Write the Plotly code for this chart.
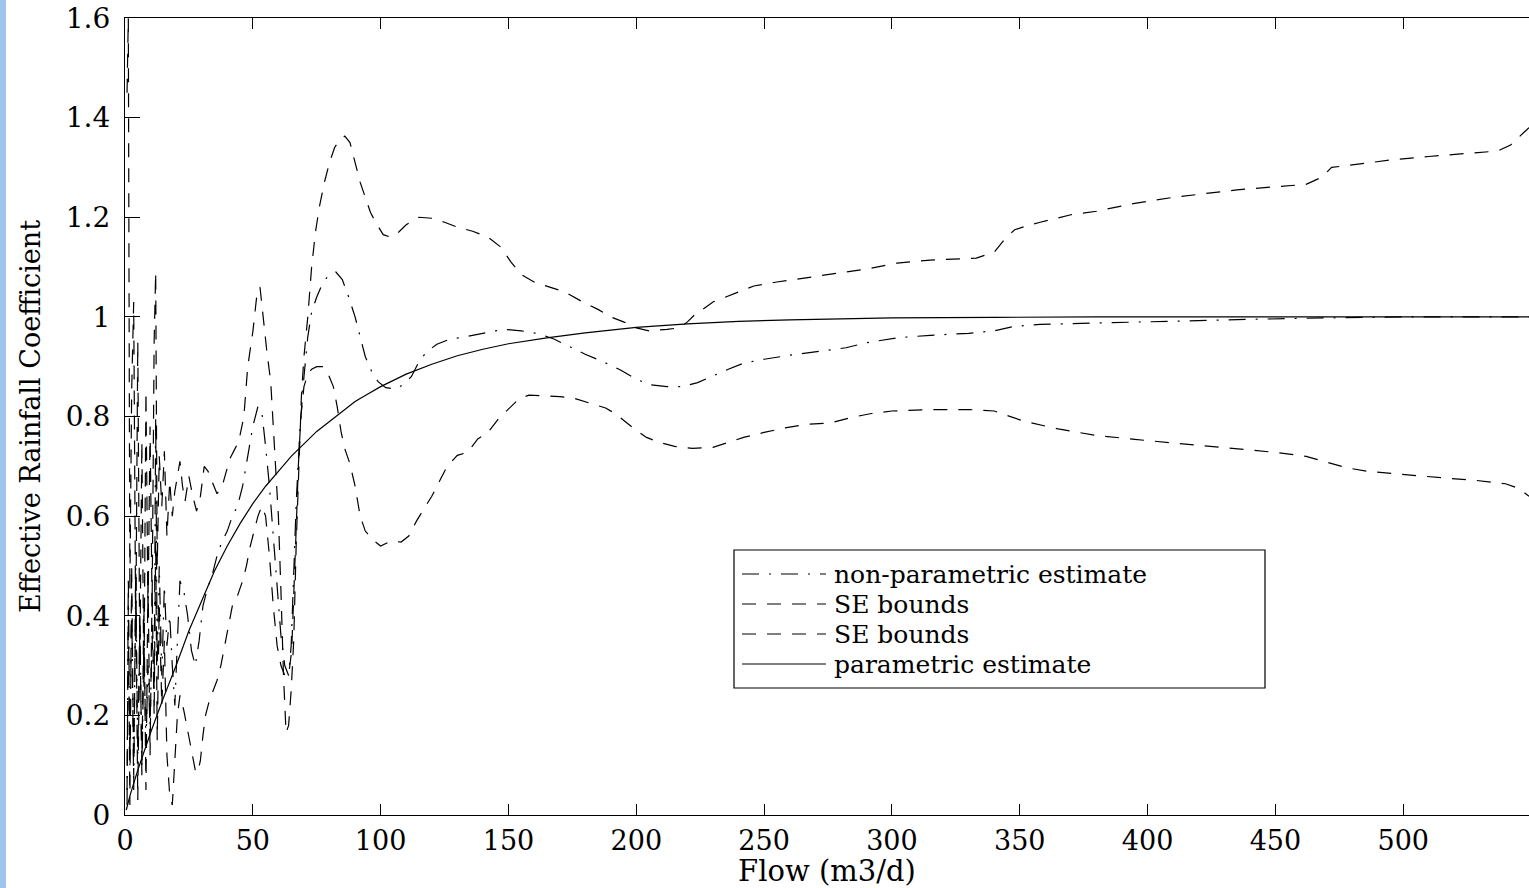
import plotly.graph_objects as go

# ---------------- data ----------------
se_upper = [
    (0.8, 1.45), (1.3, 1.6), (1.9, 0.45), (2.6, 0.85), (3.4, 1.03), (4.2, 0.35), (5.0, 0.95),
    (5.8, 0.3), (6.6, 0.75), (7.4, 0.25), (8.2, 0.85), (9.0, 0.4), (9.8, 0.78), (10.6, 0.42),
    (11.4, 0.95), (12.0, 1.09), (12.6, 0.5), (13.4, 0.72), (14.4, 0.62), (15.4, 0.73),
    (16.4, 0.56), (17.5, 0.67), (18.5, 0.6), (19.5, 0.65), (20.5, 0.68), (21.5, 0.71),
    (22.5, 0.66), (23.5, 0.63), (25, 0.68), (26.5, 0.64), (28, 0.61), (29.5, 0.64), (31, 0.70),
    (32.5, 0.69), (34, 0.67), (36, 0.645), (38, 0.66), (39.5, 0.69), (41, 0.715), (42.5, 0.73),
    (44.5, 0.75), (46.5, 0.8), (48, 0.9), (50, 0.97), (51.5, 1.04), (52.8, 1.06), (54, 1.0),
    (55.5, 0.93), (57, 0.87), (58, 0.78), (59, 0.7), (60, 0.6), (61, 0.45), (62, 0.28),
    (63, 0.165), (64, 0.18), (65, 0.25), (66, 0.35), (67, 0.55), (68, 0.72), (69, 0.84),
    (70, 0.92), (71.5, 1.0), (73, 1.1), (74.5, 1.17), (76, 1.22), (78, 1.27), (80, 1.31),
    (82, 1.34), (84, 1.355), (86, 1.363), (88, 1.35), (90, 1.31), (92, 1.27), (94, 1.24),
    (96, 1.21), (98, 1.19), (101, 1.165), (104, 1.16), (107, 1.17), (110, 1.185), (115, 1.2),
    (120, 1.198), (125, 1.19), (130, 1.18), (136, 1.172), (142, 1.16), (147, 1.14),
    (151, 1.11), (155, 1.085), (160, 1.07), (166, 1.06), (172, 1.05), (179, 1.03),
    (185, 1.015), (190, 1.0), (195, 0.99), (200, 0.978), (205, 0.972), (212, 0.975),
    (217, 0.978), (220, 0.99), (223, 1.005), (226, 1.015), (230, 1.03), (235, 1.04),
    (240, 1.05), (246, 1.062), (255, 1.07), (265, 1.077), (275, 1.084), (290, 1.096),
    (302, 1.108), (315, 1.114), (333, 1.118), (340, 1.13), (344, 1.155), (348, 1.175),
    (353, 1.183), (358, 1.19), (370, 1.205), (380, 1.212), (395, 1.228), (410, 1.24),
    (420, 1.246), (435, 1.255), (452, 1.262), (462, 1.266), (468, 1.28), (472, 1.30),
    (480, 1.305), (495, 1.315), (510, 1.322), (525, 1.328), (537, 1.333), (542, 1.345),
    (545, 1.36), (549.2, 1.38),
]

se_lower = [
    (0.8, 0.05), (1.3, 0.42), (1.9, 0.02), (2.6, 0.5), (3.4, 0.08), (4.2, 0.45), (5.0, 0.03),
    (5.8, 0.38), (6.6, 0.1), (7.4, 0.42), (8.2, 0.05), (9.0, 0.48), (9.8, 0.12), (10.6, 0.45),
    (11.4, 0.2), (12.0, 0.55), (12.6, 0.15), (13.4, 0.42), (14.4, 0.22), (15.4, 0.35),
    (16.4, 0.12), (17.5, 0.04), (18.5, 0.02), (19.5, 0.12), (20.5, 0.2), (21.5, 0.24),
    (23, 0.21), (24.5, 0.17), (26, 0.13), (27.5, 0.09), (28.5, 0.085), (29.5, 0.11),
    (30.5, 0.16), (31.5, 0.2), (33, 0.23), (34.5, 0.25), (36, 0.27), (37.5, 0.3), (39, 0.34),
    (40.5, 0.38), (42, 0.42), (44, 0.44), (46, 0.47), (47.5, 0.5), (49, 0.54), (50.5, 0.57),
    (52, 0.6), (53.5, 0.62), (55, 0.6), (56.5, 0.52), (58, 0.42), (59.5, 0.34), (61, 0.3),
    (62.5, 0.28), (64, 0.28), (65.2, 0.33), (66.2, 0.45), (67, 0.58), (67.8, 0.7),
    (68.8, 0.8), (70, 0.86), (71.5, 0.885), (73, 0.895), (75, 0.9), (77.5, 0.9),
    (79.5, 0.885), (81.5, 0.86), (83, 0.82), (84.5, 0.77), (86, 0.735), (88, 0.705),
    (90, 0.66), (92, 0.6), (94, 0.57), (97, 0.552), (100, 0.54), (104, 0.55), (108, 0.548),
    (111, 0.56), (114, 0.59), (117, 0.615), (120, 0.64), (123, 0.67), (126, 0.7),
    (130, 0.722), (134, 0.728), (138, 0.755), (142, 0.768), (146, 0.795), (150, 0.815),
    (154, 0.835), (158, 0.843), (164, 0.842), (170, 0.84), (176, 0.836), (182, 0.826),
    (188, 0.817), (192, 0.805), (196, 0.788), (200, 0.772), (204, 0.758), (209, 0.748),
    (215, 0.74), (222, 0.736), (230, 0.738), (236, 0.748), (242, 0.758), (250, 0.768),
    (258, 0.777), (266, 0.784), (276, 0.787), (284, 0.798), (292, 0.806), (300, 0.811),
    (315, 0.814), (330, 0.814), (340, 0.811), (345, 0.802), (352, 0.79), (365, 0.775),
    (380, 0.762), (395, 0.754), (410, 0.747), (430, 0.737), (450, 0.728), (462, 0.72),
    (470, 0.708), (478, 0.697), (486, 0.69), (500, 0.683), (515, 0.677), (528, 0.672),
    (540, 0.665), (545, 0.656), (549.2, 0.64),
]

nonparametric = [
    (0.8, 0.02), (1.3, 0.48), (1.9, 0.1), (2.6, 0.44), (3.4, 0.05), (4.2, 0.5), (5.0, 0.12),
    (5.8, 0.4), (6.6, 0.08), (7.4, 0.34), (8.2, 0.14), (9.0, 0.3), (9.8, 0.18), (10.6, 0.36),
    (11.4, 0.25), (12.0, 0.8), (12.6, 0.3), (13.4, 0.5), (14.4, 0.28), (15.4, 0.46),
    (16.4, 0.34), (17.5, 0.4), (18.5, 0.3), (19.5, 0.22), (20.5, 0.35), (21.5, 0.47),
    (23, 0.45), (24.5, 0.4), (26, 0.33), (27.5, 0.3), (29, 0.35), (30.5, 0.42), (32, 0.45),
    (34, 0.48), (36, 0.52), (38, 0.55), (40, 0.57), (42, 0.6), (44, 0.62), (46, 0.66),
    (48, 0.72), (50, 0.78), (52, 0.82), (53.5, 0.81), (55, 0.74), (56.5, 0.66), (58, 0.56),
    (59.5, 0.45), (61, 0.36), (62.5, 0.3), (64, 0.28), (65, 0.34), (66, 0.48), (67, 0.63),
    (68.5, 0.78), (70, 0.88), (71.5, 0.96), (73, 1.01), (75, 1.04), (77.5, 1.07),
    (80, 1.085), (82.5, 1.09), (85, 1.075), (87.5, 1.04), (90, 1.0), (92, 0.96), (94, 0.92),
    (96.5, 0.89), (99, 0.87), (102, 0.858), (106, 0.855), (109, 0.865), (112, 0.88),
    (115, 0.91), (118, 0.93), (122, 0.945), (127, 0.955), (133, 0.96), (140, 0.967),
    (148, 0.975), (155, 0.972), (162, 0.966), (168, 0.955), (174, 0.94), (180, 0.925),
    (187, 0.91), (194, 0.893), (200, 0.875), (205, 0.864), (212, 0.86), (218, 0.86),
    (224, 0.868), (230, 0.882), (236, 0.895), (242, 0.907), (250, 0.915), (260, 0.923),
    (272, 0.932), (282, 0.938), (290, 0.948), (302, 0.958), (315, 0.963), (330, 0.967),
    (340, 0.972), (348, 0.981), (358, 0.985), (380, 0.988), (410, 0.991), (440, 0.995),
    (470, 0.998), (500, 1.0), (549.2, 1.0),
]

parametric = [
    (0.5, 0.01), (2, 0.04), (5, 0.09), (10, 0.165), (15, 0.235), (20, 0.3), (25, 0.37),
    (30, 0.43), (35, 0.49), (40, 0.54), (45, 0.585), (50, 0.625), (55, 0.66), (60, 0.69),
    (65, 0.72), (70, 0.745), (75, 0.77), (80, 0.79), (85, 0.81), (90, 0.83), (95, 0.845),
    (100, 0.86), (110, 0.885), (120, 0.905), (130, 0.922), (140, 0.935), (150, 0.946),
    (165, 0.958), (180, 0.968), (200, 0.979), (220, 0.986), (240, 0.991), (260, 0.994),
    (280, 0.996), (300, 0.998), (340, 0.999), (380, 1.0), (450, 1.0), (549.2, 1.0),
]

x_ticks = [0, 50, 100, 150, 200, 250, 300, 350, 400, 450, 500]
y_ticks = [0, 0.2, 0.4, 0.6, 0.8, 1.0, 1.2, 1.4, 1.6]
y_tick_labels = ["0", "0.2", "0.4", "0.6", "0.8", "1", "1.2", "1.4", "1.6"]
legend_labels = ["non-parametric estimate", "SE bounds", "SE bounds", "parametric estimate"]

x_title = "Flow (m3/d)"
y_title = "Effective Rainfall Coefficient"

# ---------------- styling ----------------
FONT = "DejaVu Serif"
W, H = 1529, 888
L, R, T, B = 125, 0, 18, 73
PW, PH = W - L - R, H - T - B
X_MAX = 549.2
DASH = "14px,11px"
DASHDOT = "17px,10px,2px,10px"
LW = 1.2


def xp(px):
    return (px - L) / PW


def yp(py):
    return (H - B - py) / PH


def split(pairs):
    return [p[0] for p in pairs], [p[1] for p in pairs]


fig = go.Figure()
series = [
    (nonparametric, legend_labels[0], DASHDOT),
    (se_upper, legend_labels[1], DASH),
    (se_lower, legend_labels[2], DASH),
    (parametric, legend_labels[3], "solid"),
]
for pairs, name, dash in series:
    xs, ys = split(pairs)
    fig.add_trace(go.Scatter(x=xs, y=ys, mode="lines", name=name, showlegend=False,
                             line=dict(color="black", width=LW, dash=dash)))

fig.update_layout(
    width=W, height=H,
    margin=dict(l=L, r=R, t=T, b=B, pad=0),
    paper_bgcolor="white", plot_bgcolor="white",
    font=dict(family=FONT, color="black"),
    xaxis=dict(range=[0, X_MAX], tickvals=x_ticks, ticks="inside", ticklen=11, tickwidth=1.2,
               tickcolor="black", showline=True, linecolor="black", linewidth=1.3,
               mirror="ticks", showgrid=False, zeroline=False,
               tickfont=dict(family=FONT, size=27, color="black"),
               ticklabelstandoff=1,
               title=dict(text=x_title, font=dict(family=FONT, size=29, color="black"),
                          standoff=6)),
    yaxis=dict(range=[0, 1.6], tickvals=y_ticks, ticktext=y_tick_labels, ticks="inside",
               ticklen=15, tickwidth=1.2, tickcolor="black", showline=True,
               linecolor="black", linewidth=1.3, mirror=False, showgrid=False,
               zeroline=False, tickfont=dict(family=FONT, size=28, color="black"),
               ticklabelstandoff=8,
               title=dict(text=y_title, font=dict(family=FONT, size=27, color="black"),
                          standoff=17)),
    yaxis2=dict(range=[0, 1.6], tickvals=y_ticks, overlaying="y", side="right", anchor="x",
                ticks="inside", ticklen=15, tickwidth=1.2, tickcolor="black",
                showline=False, showgrid=False, zeroline=False, showticklabels=False),
)

# blue strip at the far left of the page
shapes = [dict(type="rect", xref="paper", yref="paper", x0=xp(0), x1=xp(6),
               y0=yp(H), y1=yp(0), fillcolor="#9fc5ef", line=dict(width=0), layer="below")]

# legend box drawn as text + line samples
box = (734, 550, 1265, 688)
shapes.append(dict(type="rect", xref="paper", yref="paper", x0=xp(box[0]), x1=xp(box[2]),
                   y0=yp(box[3]), y1=yp(box[1]), fillcolor="white",
                   line=dict(color="black", width=1.2), layer="above"))
rows = [574, 604, 634, 664]
annotations = []
for (pairs, name, dash), ry in zip(series, rows):
    shapes.append(dict(type="line", xref="paper", yref="paper", x0=xp(742), x1=xp(826),
                       y0=yp(ry), y1=yp(ry), line=dict(color="black", width=LW, dash=dash),
                       layer="above"))
    annotations.append(dict(xref="paper", yref="paper", x=xp(832), y=yp(ry), text=name,
                            showarrow=False, xanchor="left", yanchor="middle",
                            font=dict(family=FONT, size=25, color="black")))

fig.update_layout(shapes=shapes, annotations=annotations)
fig.write_html("out.html")
